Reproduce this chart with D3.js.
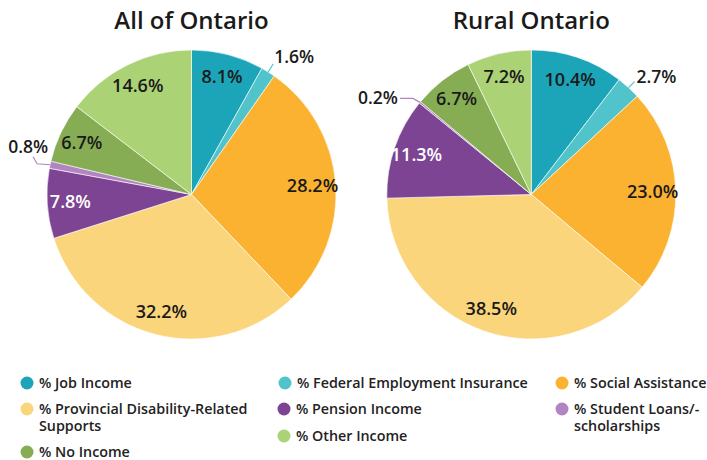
<!DOCTYPE html>
<html>
<head>
<meta charset="utf-8">
<script src="https://cdn.jsdelivr.net/npm/d3@7"></script>
<style>
  body { margin: 0; background: #fff; }
  svg { display: block; font-family: "Open Sans", "Noto Sans", sans-serif; }
</style>
</head>
<body>
<div id="chart"></div>
<script>
// Data
const categories = [
  "% Job Income",
  "% Federal Employment Insurance",
  "% Social Assistance",
  "% Provincial Disability-Related Supports",
  "% Pension Income",
  "% Student Loans/-scholarships",
  "% No Income",
  "% Other Income"
];
const regions = ["All of Ontario", "Rural Ontario"];
const allOntario = [8.1, 1.6, 28.2, 32.2, 7.8, 0.8, 6.7, 14.6];
const ruralOntario = [10.4, 2.7, 23.0, 38.5, 11.3, 0.2, 6.7, 7.2];

const colors = ["#1ca5b8", "#51c3cb", "#fbb231", "#fbd57c", "#7d4493", "#b284c1", "#86ad53", "#acd276"];

const width = 707, height = 460;
const radius = 144.5;
const centers = [[191.5, 194.5], [531.3, 194.5]];

const svg = d3.select("#chart").append("svg")
  .attr("width", width)
  .attr("height", height);

const pie = d3.pie().sort(null).value(d => d.value);
const arc = d3.arc().innerRadius(0).outerRadius(radius);
const labelArc = d3.arc().innerRadius(radius * 0.84).outerRadius(radius * 0.84);

// leader line shapes for small slices (offsets from slice edge)
const leaders = [
  { 1: { pts: [[5, -8]], text: [1, -1], anchor: "start" },
    5: { pts: [[-13, -1], [-17, -8]], text: [15, -4], anchor: "end" } },
  { 1: { pts: [[6, -6]], text: [2, 1], anchor: "start" },
    5: { pts: [[-7, -4], [-20, -4]], text: [-2, 6], anchor: "end" } }
];

function drawPie(values, idx) {
  const data = values.map((v, i) => ({ key: categories[i], value: v, i }));
  const g = svg.append("g")
    .attr("transform", `translate(${centers[idx][0]},${centers[idx][1]})`);

  g.append("text")
    .attr("x", 0)
    .attr("y", 29 - centers[idx][1])
    .attr("text-anchor", "middle")
    .attr("font-size", 24)
    .attr("font-weight", 600)
    .attr("fill", "#1a1a1a")
    .text(regions[idx]);

  const arcs = pie(data);

  g.selectAll("path.slice")
    .data(arcs)
    .enter().append("path")
    .attr("class", "slice")
    .attr("d", arc)
    .attr("fill", d => colors[d.data.i])
    .attr("stroke", "#fff")
    .attr("stroke-width", 0.6);

  arcs.forEach(d => {
    const lead = leaders[idx][d.data.i];
    if (lead) {
      const a = (d.startAngle + d.endAngle) / 2;
      let p = [radius * Math.sin(a), -radius * Math.cos(a)];
      const pts = [p.slice()];
      lead.pts.forEach(o => pts.push([p[0] + o[0], p[1] + o[1]]));
      const last = pts[pts.length - 1];
      g.append("path")
        .attr("d", d3.line()(pts))
        .attr("fill", "none")
        .attr("stroke", colors[d.data.i])
        .attr("stroke-width", 1.2);
      g.append("text")
        .attr("x", last[0] + lead.text[0])
        .attr("y", last[1] + lead.text[1])
        .attr("text-anchor", lead.anchor)
        .attr("font-size", 17.5)
        .attr("font-weight", 600)
        .attr("fill", "#1a1a1a")
        .text(d.data.value.toFixed(1) + "%");
    } else {
      const c = labelArc.centroid(d);
      g.append("text")
        .attr("x", c[0])
        .attr("y", c[1])
        .attr("dy", "0.35em")
        .attr("text-anchor", "middle")
        .attr("font-size", 18)
        .attr("font-weight", 600)
        .attr("fill", d.data.i === 4 ? "#fff" : "#1a1a1a")
        .text(d.data.value.toFixed(1) + "%");
    }
  });
}

drawPie(allOntario, 0);
drawPie(ruralOntario, 1);

// Legend
const legendPos = [
  [27, 383], [285, 383], [562, 383],
  [27, 409], [284, 409], [562, 409],
  [27, 452], [284, 436]
];
const legend = svg.append("g");
categories.forEach((c, i) => {
  const [x, y] = legendPos[i];
  const item = legend.append("g").attr("transform", `translate(${x},${y})`);
  item.append("circle").attr("r", 6.5).attr("fill", colors[i]);
  const lines = c === "% Provincial Disability-Related Supports"
    ? ["% Provincial Disability-Related", "Supports"]
    : c === "% Student Loans/-scholarships"
      ? ["% Student Loans/-", "scholarships"]
      : [c];
  const t = item.append("text")
    .attr("x", 12)
    .attr("y", 0)
    .attr("font-size", 14.3)
    .attr("font-weight", 600)
    .attr("fill", "#222");
  lines.forEach((l, j) => {
    t.append("tspan").attr("x", 12).attr("dy", j === 0 ? "0.35em" : "1.2em").text(l);
  });
});
</script>
</body>
</html>
